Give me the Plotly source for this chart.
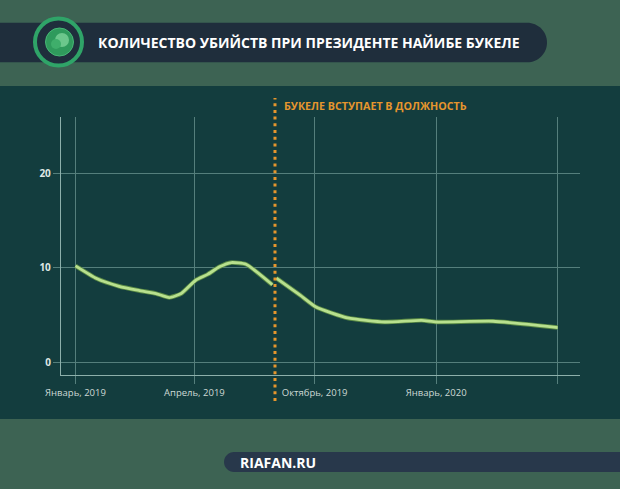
import plotly.graph_objects as go

# ---------------- data ----------------
dates_before = ["2019-01-01", "2019-01-17", "2019-02-03", "2019-02-18", "2019-03-03",
                "2019-03-13", "2019-03-22", "2019-04-02", "2019-04-11", "2019-04-20",
                "2019-04-29", "2019-05-10", "2019-05-30"]
values_before = [10.2, 8.86, 8.04, 7.6, 7.27, 6.85, 7.27, 8.68, 9.3, 10.1, 10.55, 10.37, 8.2]

dates_after = ["2019-06-02", "2019-06-20", "2019-07-02", "2019-07-26", "2019-08-23",
               "2019-09-20", "2019-10-01", "2019-11-13", "2020-01-01"]
values_after = [8.9, 7.1, 5.85, 4.69, 4.26, 4.44, 4.26, 4.34, 3.67]

tick_dates = ["2019-01-01", "2019-04-01", "2019-07-01", "2019-10-01", "2020-01-01"]
tick_labels = ["Январь, 2019", "Апрель, 2019", "Октябрь, 2019", "Январь, 2020", ""]
y_ticks = [0, 10, 20]

title_text = "КОЛИЧЕСТВО УБИЙСТВ ПРИ ПРЕЗИДЕНТЕ НАЙИБЕ БУКЕЛЕ"
event_date = "2019-06-01"
event_label = "БУКЕЛЕ ВСТУПАЕТ В ДОЛЖНОСТЬ"
source_text = "RIAFAN.RU"

# ---------------- layout constants ----------------
W, H = 620, 489
L, R, T, B = 61, 580, 117, 375

OUTER = "#3d6353"
PANEL = "#133d3e"
PILL = "#1f2e3c"
PILL2 = "#28384b"
ORANGE = "#e6962d"
GRID = "#557f7c"
AXLINE = "#8db0ab"
FONT = "Open Sans"


def px(x):
    return (x - L) / (R - L)


def py(y):
    return (B - y) / (B - T)


def pt(x, y):
    return f"{px(x):.5f},{py(y):.5f}"


K = 0.5523


def pill_right(x0, x1, y0, y1):
    r = (y1 - y0) / 2
    cy = y0 + r
    cx = x1 - r
    return (f"M{pt(x0, y0)} L{pt(cx, y0)} "
            f"C{pt(cx + K * r, y0)} {pt(x1, cy - K * r)} {pt(x1, cy)} "
            f"C{pt(x1, cy + K * r)} {pt(cx + K * r, y1)} {pt(cx, y1)} "
            f"L{pt(x0, y1)} Z")


def pill_left(x0, x1, y0, y1):
    r = (y1 - y0) / 2
    cy = y0 + r
    cx = x0 + r
    return (f"M{pt(x1, y0)} L{pt(cx, y0)} "
            f"C{pt(cx - K * r, y0)} {pt(x0, cy - K * r)} {pt(x0, cy)} "
            f"C{pt(x0, cy + K * r)} {pt(cx - K * r, y1)} {pt(cx, y1)} "
            f"L{pt(x1, y1)} Z")


def circle(cx, cy, r, **kw):
    d = dict(type="circle", xref="paper", yref="paper",
             x0=px(cx - r), x1=px(cx + r), y0=py(cy + r), y1=py(cy - r))
    d.update(kw)
    return d


fig = go.Figure()

# green line: dark edge + light stroke
for width, color in [(4.5, "#5a8a45"), (2.8, "#b8e08e")]:
    fig.add_trace(go.Scatter(
        x=dates_before + [None] + dates_after,
        y=values_before + [None] + values_after,
        mode="lines",
        line=dict(color=color, width=width, shape="spline", smoothing=0.5),
        connectgaps=False,
        hoverinfo="skip",
        showlegend=False,
    ))

shapes = []
# dark panel
shapes.append(dict(type="rect", xref="paper", yref="paper", layer="below",
                   x0=px(-5), x1=px(W + 5), y0=py(419), y1=py(86),
                   fillcolor=PANEL, line=dict(width=0)))
# title pill
shapes.append(dict(type="path", xref="paper", yref="paper", layer="below",
                   path=pill_right(-5, 547, 22.7, 62.3),
                   fillcolor=PILL, line=dict(width=0)))
# bottom pill
shapes.append(dict(type="path", xref="paper", yref="paper", layer="below",
                   path=pill_left(224, W + 5, 452, 472),
                   fillcolor=PILL2, line=dict(width=0)))
# logo
shapes.append(circle(58.5, 42, 23.5, fillcolor=PILL, line=dict(color="#2fa468", width=4)))
shapes.append(circle(59.5, 42, 14, fillcolor="#2f9a5c", line=dict(color="#47b776", width=1)))
shapes.append(circle(62, 40, 7, fillcolor="#6cc78c", line=dict(width=0)))
shapes.append(circle(56, 44, 5, fillcolor="#3fae6b", line=dict(width=0)))

# event dotted line
shapes.append(dict(type="line", xref="x", yref="paper",
                   x0=event_date, x1=event_date, y0=py(401), y1=py(98),
                   line=dict(color=ORANGE, width=3, dash="3px,3.7px")))

fig.update_layout(shapes=shapes)

annotations = [
    dict(text=f"<b>{title_text}</b>", xref="paper", yref="paper",
         x=px(96), y=py(42.5), xanchor="left", yanchor="middle", showarrow=False,
         font=dict(family=FONT, size=14, color="#ffffff")),
    dict(text=f"<b>{event_label}</b>", xref="paper", yref="paper",
         x=px(282), y=py(106), xanchor="left", yanchor="middle", showarrow=False,
         font=dict(family=FONT, size=10.7, color=ORANGE)),
    dict(text=f"<b>{source_text}</b>", xref="paper", yref="paper",
         x=px(238), y=py(462), xanchor="left", yanchor="middle", showarrow=False,
         font=dict(family=FONT, size=14, color="#ffffff")),
]
fig.update_layout(annotations=annotations)

fig.update_layout(
    width=W, height=H,
    margin=dict(l=L, r=W - R, t=T, b=H - B, pad=0),
    paper_bgcolor=OUTER,
    plot_bgcolor="rgba(0,0,0,0)",
    showlegend=False,
    xaxis=dict(
        type="date",
        range=["2018-12-21 00:30", "2020-01-17 21:00"],
        tickmode="array", tickvals=tick_dates, ticktext=tick_labels,
        showgrid=True, gridcolor=GRID, gridwidth=1,
        ticks="outside", ticklen=8, tickcolor=GRID, tickwidth=1,
        showline=True, linecolor=AXLINE, linewidth=1.3,
        zeroline=False,
        tickfont=dict(family=FONT, size=9.5, color="#cdd9d5"),
    ),
    yaxis=dict(
        range=[-1.35, 25.96],
        tickmode="array", tickvals=y_ticks,
        ticktext=[f"<b>{v}</b>" for v in y_ticks],
        showgrid=True, gridcolor=GRID, gridwidth=1,
        ticks="outside", ticklen=7, tickcolor=GRID, tickwidth=1,
        showline=True, linecolor=AXLINE, linewidth=1.3,
        zeroline=False,
        tickfont=dict(family=FONT, size=10, color="#dfe8e5"),
    ),
)

fig.write_html("out.html")
